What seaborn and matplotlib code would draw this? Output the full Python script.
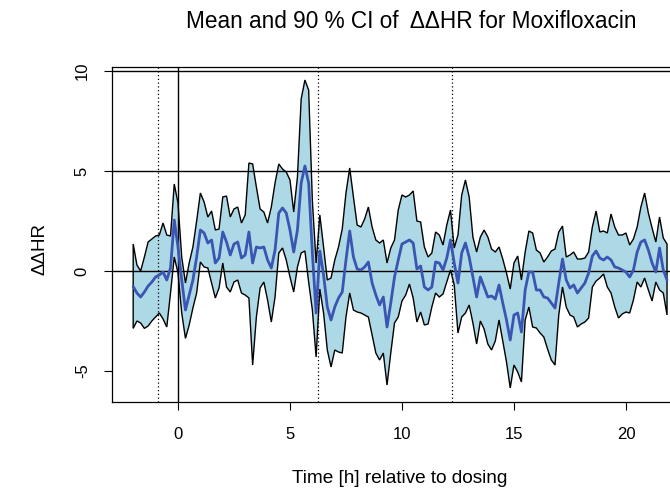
import matplotlib
matplotlib.use('Agg')
import matplotlib.pyplot as plt
import numpy as np
import pandas as pd
import seaborn as sns

sns.set_style('white')
plt.rcParams['font.family'] = ['Liberation Sans', 'DejaVu Sans']
plt.rcParams['text.color'] = 'black'
plt.rcParams['axes.labelcolor'] = 'black'
plt.rcParams['xtick.color'] = 'black'
plt.rcParams['ytick.color'] = 'black'

# ---- data (10 min grid) ----
time_h = [round(-2 + i / 6, 4) for i in range(144)]

upper = [1.35, 0.3, 0.0, 0.7, 1.45, 1.6, 1.75, 1.8, 2.4, 1.8, 1.75, 4.35, 3.4, 0.7, -0.6, 0.4,
         1.2, 2.5, 3.9, 3.45, 2.7, 3.0, 2.05, 2.1, 3.7,
         3.75, 2.7, 3.1, 3.2, 2.4, 2.8, 5.4, 5.35, 4.2, 3.1, 2.95, 2.4, 3.2, 4.4, 5.35, 5.1,
         4.95, 4.55, 2.95, 4.7, 8.6, 9.55, 9.05, 3.5,
         0.4, 2.8, 1.2, -0.45, -0.35, 0.55, 1.2, 2.1, 3.9, 5.15, 3.7, 2.3, 2.2, 2.6, 3.2, 2.2,
         1.55, 1.4, 1.55, 0.4, 1.15, 1.55, 3.05, 3.8,
         3.7, 3.8, 4.0, 2.5, 2.45, 1.2, 0.7, 0.9, 1.95, 1.8, 1.3, 2.3, 3.05, 1.15, 1.8, 3.8,
         4.55, 3.7, 1.7, 0.95, 1.7, 2.05, 1.7, 1.1,
         0.95, 1.2, 0.6, -0.1, -0.9, 0.4, 0.75, -0.45, 0.95, 2.0, 1.9, 1.05, 0.9, 0.45, 0.7, 1.0,
         1.1, 1.95, 2.25, 0.7, 0.8, 0.95, 0.6, 0.6,
         0.65, 0.95, 2.2, 3.0, 1.95, 2.0, 1.9, 2.85, 2.2, 1.8, 1.8, 1.9, 1.3, 1.6, 2.2, 3.2,
         3.9, 2.9, 2.15, 1.45, 2.7, 1.65, 1.35]

mean_hr = [-0.78, -1.1, -1.3, -1.05, -0.75, -0.55, -0.3, -0.2, -0.05, -0.45, 0.15, 2.55, 1.2,
           -0.45, -1.95, -1.2, -0.45, 0.7, 2.05, 1.9, 1.4, 1.55, 0.4, 0.65, 1.95,
           1.45, 0.8, 1.35, 1.45, 0.65, 0.8, 1.95, 0.4, 1.2, 1.15, 1.2, 0.55, 0.15, 1.05, 2.9,
           3.15, 2.9, 2.05, 0.95, 2.05, 4.4, 5.25, 4.4, 0.9,
           -2.1, 1.0, -0.2, -1.8, -2.45, -1.8, -1.35, -1.05, 0.55, 2.0, 0.7, 0.1, 0.05, 0.2,
           0.45, -0.6, -1.2, -1.7, -1.3, -2.8, -1.6, -0.3, 0.55, 1.35,
           1.45, 1.55, 1.4, 0.1, 0.25, -0.8, -0.95, -0.8, 0.45, 0.4, 0.05, 0.65, 1.55, 0.4,
           -0.6, 0.9, 1.4, 0.7, -0.3, -1.3, -0.3, -0.8, -1.3, -1.25,
           -1.4, -0.7, -1.6, -2.45, -3.45, -2.2, -2.1, -3.05, -0.95, -0.05, -0.05, -0.95,
           -0.95, -1.3, -1.35, -1.6, -1.85, -0.6, 0.6, -0.45, -0.85, -0.7, -1.1, -0.85,
           -0.6, -0.1, 0.75, 1.0, 0.65, 0.55, 0.7, 0.55, 0.2, 0.15, 0.05, -0.05, -0.3, 0.05,
           0.95, 1.45, 1.55, 1.05, 0.4, -0.05, 1.15, 0.05, -0.45]

lower = [-2.87, -2.5, -2.6, -2.87, -2.75, -2.5, -2.3, -2.1, -2.4, -2.8, -1.1, 0.7, -0.1, -2.1,
         -3.37, -2.7, -1.85, -1.1, 0.45, 0.2, 0.15, -0.6, -1.35, -0.85, 0.4,
         -0.8, -1.05, -0.55, -0.45, -1.1, -1.2, -1.35, -4.7, -2.3, -0.85, -0.55, -1.45, -2.55,
         -1.3, 0.9, 1.15, 0.55, -0.3, -1.05, 0.2, 0.9, 1.0, -0.55, -1.95,
         -4.3, -0.9, -2.1, -3.95, -4.8, -3.95, -4.05, -4.1, -2.3, -1.1, -1.95, -2.05, -2.1,
         -2.2, -2.3, -3.2, -4.1, -4.45, -4.1, -5.7, -4.1, -2.6, -2.3, -1.5,
         -1.2, -0.65, -1.35, -2.55, -2.05, -2.7, -2.65, -1.8, -1.1, -1.3, -1.15, -0.55, 0.05,
         -0.7, -3.1, -2.3, -2.1, -1.7, -2.6, -3.65, -2.5, -2.9, -3.65, -3.95,
         -3.5, -2.45, -3.5, -4.55, -5.85, -4.7, -5.05, -5.55, -2.45, -1.8, -2.8, -2.85, -3.1,
         -3.3, -3.9, -4.45, -4.7, -2.2, -0.8, -1.8, -2.2, -2.3, -2.8, -2.65,
         -2.55, -2.35, -0.8, -0.5, -0.35, -0.15, -0.8, -1.1, -1.8, -2.35, -2.15, -2.05, -2.1,
         -1.45, -0.55, -0.8, -0.35, -0.95, -1.5, -0.55, -0.95, -1.1, -2.2]

h_lines = [0, 5, 10]
v_solid = [0]
v_dotted = [-0.9, 6.25, 12.25]
x_ticks = [0, 5, 10, 15, 20]
y_ticks = [-5, 0, 5, 10]

df = pd.DataFrame({'time': time_h, 'mean': mean_hr, 'lower': lower, 'upper': upper})

# ---- plot ----
fig = plt.figure(figsize=(6.7, 4.91), dpi=100)
ax = fig.add_axes([112 / 670, 89 / 491, 576 / 670, 335 / 491])

# CI band as a closed polygon with black border
poly_x = np.concatenate([df['time'].values, df['time'].values[::-1]])
poly_y = np.concatenate([df['upper'].values, df['lower'].values[::-1]])
ax.fill(poly_x, poly_y, facecolor='#ADD8E6', edgecolor='black', linewidth=1.0, zorder=1)

for h in h_lines:
    ax.axhline(h, color='black', linewidth=1.0, zorder=2)
for v in v_solid:
    ax.axvline(v, color='black', linewidth=1.0, zorder=2)
for v in v_dotted:
    ax.axvline(v, color='black', linewidth=0.9, linestyle=(0, (1, 2)), zorder=2)

sns.lineplot(data=df, x='time', y='mean', color='#3a55b2', linewidth=2.0, ax=ax, zorder=3)

ax.set_xlim(-2.946, 22.77)
ax.set_ylim(-6.55, 10.2)
ax.set_xticks(x_ticks)
ax.set_yticks(y_ticks)
ax.set_yticklabels([str(v) for v in y_ticks], rotation=90, va='center')
ax.tick_params(axis='both', direction='out', length=6, width=0.8, labelsize=12,
               bottom=True, left=True, colors='black')
ax.tick_params(axis='x', pad=12)
ax.tick_params(axis='y', pad=10)

for s in ax.spines.values():
    s.set_color('black')
    s.set_linewidth(0.9)

ax.set_xlabel('Time [h] relative to dosing', fontsize=13.7, labelpad=20, color='black')
ax.set_ylabel('')
fig.text(40 / 670, 1 - 249 / 491, 'ΔΔHR', rotation=90, ha='center', va='center',
         fontsize=13.5, color='black')
fig.text(411 / 670, 1 - 21 / 491, 'Mean and 90 % CI of  ΔΔHR for Moxifloxacin',
         ha='center', va='center', fontsize=16.3, color='black')

plt.savefig('out.png', dpi=100)
plt.close()
